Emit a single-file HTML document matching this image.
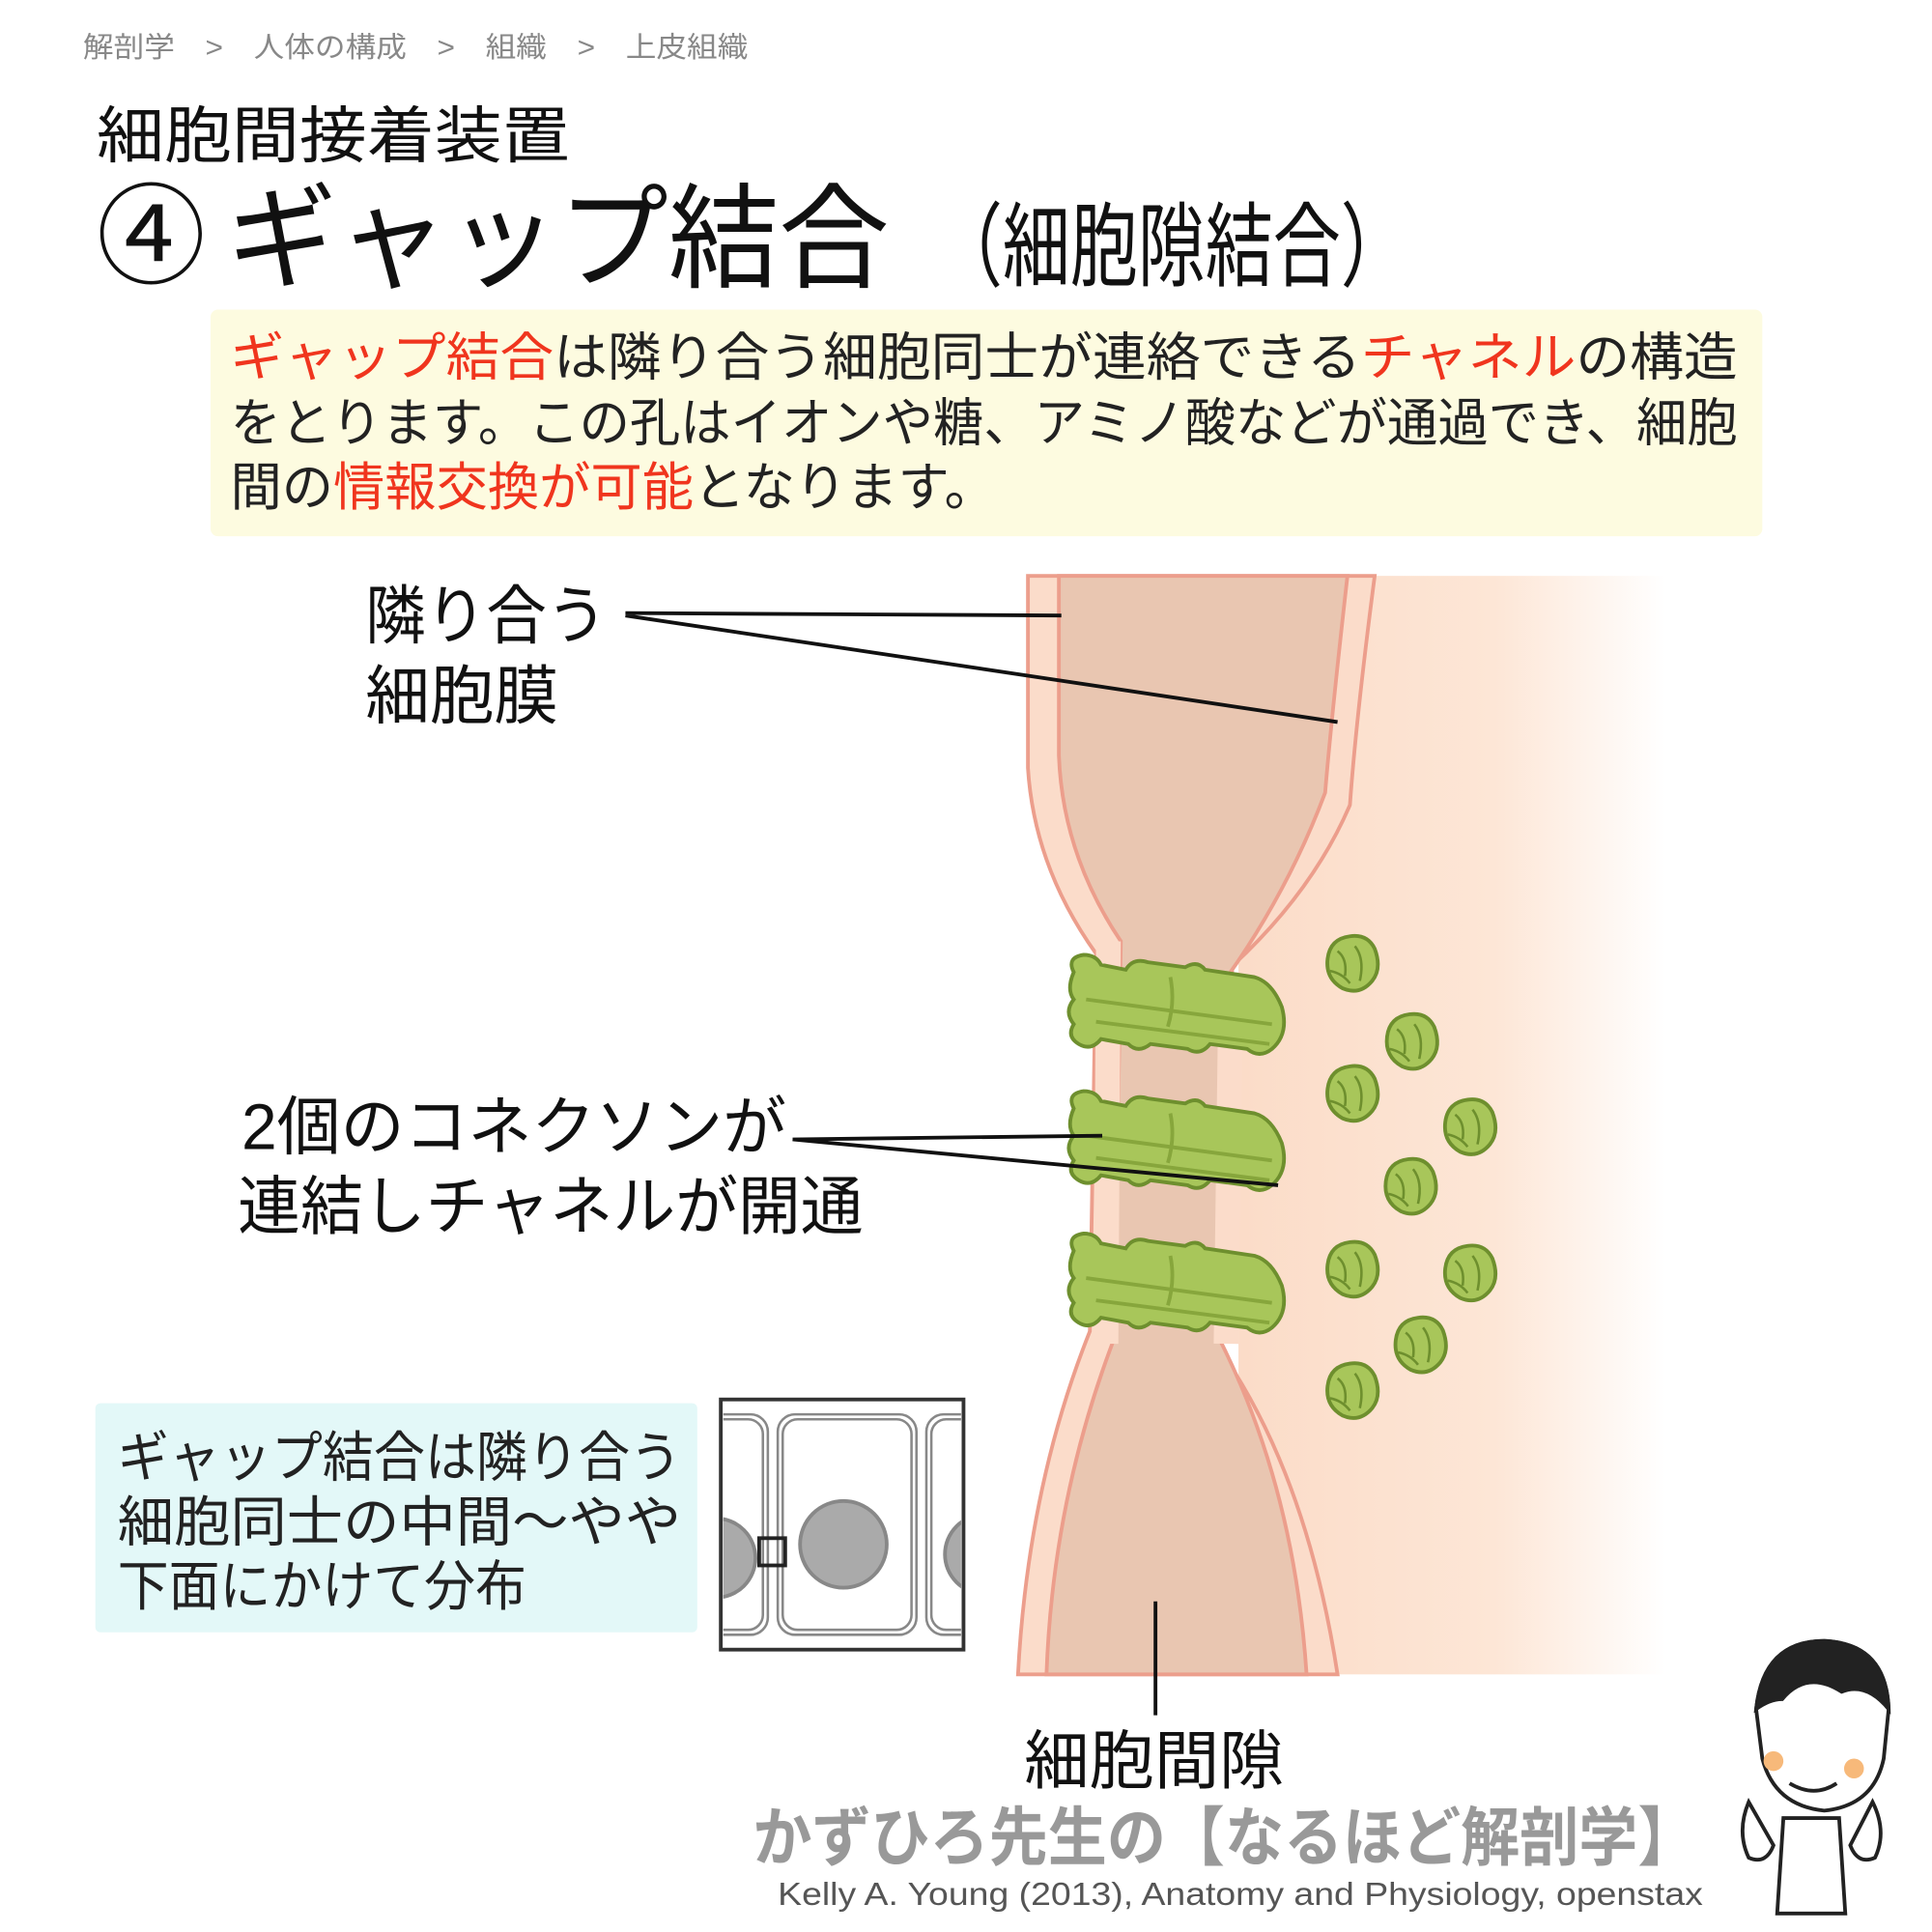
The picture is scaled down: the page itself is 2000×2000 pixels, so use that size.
<!DOCTYPE html>
<html><head><meta charset="utf-8"><style>
html,body{margin:0;padding:0;background:#fff;}
svg{display:block}
text{font-family:"Liberation Sans","Noto Sans CJK JP",sans-serif;}
</style></head><body>
<svg width="2000" height="2000" viewBox="0 0 1560 1560" xmlns="http://www.w3.org/2000/svg">
<defs>
<linearGradient id="rc" x1="0" x2="1" y1="0" y2="0">
<stop offset="0" stop-color="#fbdcc8"/><stop offset="0.6" stop-color="#fde6d6"/><stop offset="1" stop-color="#ffffff"/>
</linearGradient>
<g id="conn">
<path d="M-88,-30 q-6,-12 8,-14 q10,0 14,8 l20,4 q6,-10 18,-6 l30,4 q10,-6 16,2 l40,6 q14,4 22,24 q6,22 -8,34 q-10,8 -20,0 l-30,-4 q-8,10 -18,4 l-30,-4 q-10,8 -18,0 l-22,-4 q-8,10 -18,4 q-10,-6 -4,-16 q-8,-10 0,-20 q-6,-8 0,-22z" fill="#a8c65a" stroke="#6e8f2e" stroke-width="3"/>
<path d="M-78,-8 l150,20 M-70,10 l140,18 M-10,-26 q4,20 -2,40" fill="none" stroke="#87a63c" stroke-width="3"/>
</g>
<g id="dot">
<path d="M0,-24 q14,-2 20,10 q6,16 -2,26 q-10,12 -24,6 q-14,-8 -12,-24 q2,-16 18,-18z" fill="#a8c65a" stroke="#6e8f2e" stroke-width="3"/>
<path d="M-10,-12 q8,6 6,20 M4,-16 q8,10 4,28 M-16,4 q10,2 16,10" fill="none" stroke="#6e8f2e" stroke-width="2"/>
</g>
</defs>
<rect width="1560" height="1560" fill="#fff"/>
<text x="67" y="46" font-size="23" fill="#888" textLength="537" lengthAdjust="spacingAndGlyphs">解剖学　&gt;　人体の構成　&gt;　組織　&gt;　上皮組織</text>
<text x="78" y="127" font-size="50" fill="#111" textLength="382" lengthAdjust="spacingAndGlyphs">細胞間接着装置</text>
<text x="78" y="222" font-size="88" fill="#111">④</text>
<text x="183" y="225" font-size="92" fill="#111" textLength="535" lengthAdjust="spacingAndGlyphs">ギャップ結合</text>
<text x="755" y="225" font-size="74" fill="#111" textLength="382" lengthAdjust="spacingAndGlyphs">（細胞隙結合）</text>
<rect x="170" y="250" width="1253" height="183" rx="6" fill="#fdfbe0"/>
<text font-size="42" fill="#222"><tspan x="186" y="303" textLength="1217" lengthAdjust="spacingAndGlyphs"><tspan fill="#f0351e">ギャップ結合</tspan>は隣り合う細胞同士が連絡できる<tspan fill="#f0351e">チャネル</tspan>の構造</tspan></text>
<text x="186" y="356" font-size="42" fill="#222" textLength="1217" lengthAdjust="spacingAndGlyphs">をとります。この孔はイオンや糖、アミノ酸などが通過でき、細胞</text>
<text x="186" y="408" font-size="42" fill="#222" textLength="618" lengthAdjust="spacingAndGlyphs">間の<tspan fill="#f0351e">情報交換が可能</tspan>となります。</text>
<rect x="1000" y="465" width="345" height="887" fill="url(#rc)"/>
<path d="M830,465 L1110,465 Q1095,580 1090,650 Q1060,720 995,780 L985,1090 Q1055,1190 1080,1352 L822,1352 Q830,1200 880,1075 L885,770 Q835,700 830,620Z" fill="#fbdcca" stroke="#ec9e8c" stroke-width="3"/>
<path d="M855,465 L1088,465 Q1075,580 1070,640 Q1040,720 990,790 L984,1080 Q1045,1200 1055,1352 L845,1352 Q850,1210 900,1080 L905,760 Q858,690 855,610Z" fill="#e9c6b1" stroke="#ec9e8c" stroke-width="3"/>
<path d="M895,760 L893,1085 M994,785 L990,1085" stroke="#fbdcca" stroke-width="20"/>
<use href="#conn" x="955" y="815"/>
<use href="#conn" x="955" y="925"/>
<use href="#conn" x="955" y="1040"/>
<use href="#dot" x="1090" y="780"/>
<use href="#dot" x="1138" y="843"/>
<use href="#dot" x="1090" y="885"/>
<use href="#dot" x="1185" y="912"/>
<use href="#dot" x="1137" y="960"/>
<use href="#dot" x="1090" y="1027"/>
<use href="#dot" x="1185" y="1030"/>
<use href="#dot" x="1145" y="1088"/>
<use href="#dot" x="1090" y="1125"/>
<g stroke="#111" stroke-width="3" fill="none">
<path d="M505,495 L857,497 M505,497 L1080,583"/>
<path d="M640,920 L890,917 M640,920 L1032,957"/>
<path d="M933,1293 L933,1385"/>
</g>
<text x="295" y="515" font-size="52" fill="#111" textLength="195" lengthAdjust="spacingAndGlyphs">隣り合う</text>
<text x="295" y="580" font-size="52" fill="#111">細胞膜</text>
<text x="195" y="928" font-size="52" fill="#111" textLength="440" lengthAdjust="spacingAndGlyphs">2個のコネクソンが</text>
<text x="192" y="992" font-size="52" fill="#111" textLength="505" lengthAdjust="spacingAndGlyphs">連結しチャネルが開通</text>
<rect x="77" y="1133" width="486" height="185" rx="4" fill="#e3f8f8"/>
<text font-size="44" fill="#222"><tspan x="95" y="1192" textLength="455" lengthAdjust="spacingAndGlyphs">ギャップ結合は隣り合う</tspan><tspan x="95" y="1244" textLength="455" lengthAdjust="spacingAndGlyphs">細胞同士の中間～やや</tspan><tspan x="95" y="1296" textLength="330" lengthAdjust="spacingAndGlyphs">下面にかけて分布</tspan></text>
<g>
<rect x="582" y="1130" width="196" height="202" fill="#fff" stroke="#333" stroke-width="3"/>
<clipPath id="cb"><rect x="584" y="1132" width="192" height="198"/></clipPath>
<g clip-path="url(#cb)" fill="none" stroke="#888" stroke-width="2">
<rect x="520" y="1142" width="100" height="178" rx="14"/>
<rect x="628" y="1142" width="112" height="178" rx="14"/>
<rect x="748" y="1142" width="100" height="178" rx="14"/>
<rect x="524" y="1146" width="92" height="170" rx="12"/>
<rect x="632" y="1146" width="104" height="170" rx="12"/>
<rect x="752" y="1146" width="92" height="170" rx="12"/>
<circle cx="681" cy="1247" r="35" fill="#aaa" stroke="#888" stroke-width="3"/>
<circle cx="578" cy="1258" r="32" fill="#aaa" stroke="#888" stroke-width="3"/>
<circle cx="795" cy="1255" r="32" fill="#aaa" stroke="#888" stroke-width="3"/>
</g>
<rect x="613" y="1242" width="21" height="22" fill="none" stroke="#222" stroke-width="3"/>
</g>
<text x="827" y="1440" font-size="52" fill="#111" textLength="210" lengthAdjust="spacingAndGlyphs">細胞間隙</text>
<text x="608" y="1502" font-size="52" fill="#999" font-weight="bold" textLength="762" lengthAdjust="spacingAndGlyphs">かずひろ先生の【なるほど解剖学】</text>
<text x="628" y="1538" font-size="26" fill="#555" textLength="747" lengthAdjust="spacingAndGlyphs">Kelly A. Young (2013), Anatomy and Physiology, openstax</text>
<g stroke="#222" stroke-width="3" fill="#fff">
<path d="M1418,1380 q6,-55 55,-55 q50,2 52,55 l-4,40 q-8,38 -48,42 q-40,-4 -50,-42z"/>
<path d="M1418,1380 q6,-55 55,-55 q50,2 52,55 q-18,-22 -38,-14 q-28,-18 -48,6 q-10,0 -21,8z" fill="#222"/>
<circle cx="1432" cy="1422" r="8" fill="#f7b97a" stroke="none"/>
<circle cx="1497" cy="1428" r="8" fill="#f7b97a" stroke="none"/>
<path d="M1445,1440 q20,12 38,0" fill="none"/>
<path d="M1440,1468 l-5,77 l55,0 l-5,-77z"/>
<path d="M1412,1455 q-10,24 0,45 q14,6 20,-10z M1512,1455 q12,24 2,45 q-14,6 -20,-10z"/>
</g>
</svg>
</body></html>
